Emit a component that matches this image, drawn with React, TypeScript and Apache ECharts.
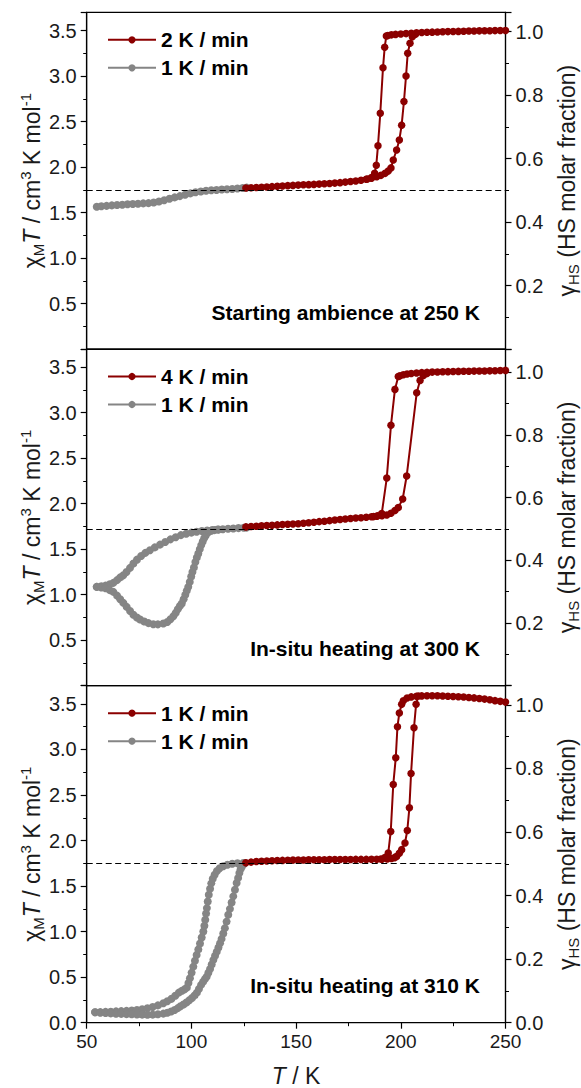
import React, { useEffect, useRef } from 'react';
import * as echarts from 'echarts';

// ---------- data (T / K, chiM*T / cm3 K mol-1) ----------
const legendLabels: string[][] = [
  ['2 K / min', '1 K / min'],
  ['4 K / min', '1 K / min'],
  ['1 K / min', '1 K / min'],
];
const panelNotes: string[] = [
  'Starting ambience at 250 K',
  'In-situ heating at 300 K',
  'In-situ heating at 310 K',
];
// chiM*T value that corresponds to a HS molar fraction of 1 in each panel
const hsFullScale: number[] = [3.487, 3.446, 3.49];
const xTicks = { min: 50, max: 250, step: 50 };
const yTicks = { min: 0, max: 3.7, step: 0.5 };

const p1Gray: [number, number][] = [
  [54.8, 1.564], [57, 1.568], [59.5, 1.573], [62, 1.578], [64.5, 1.582], [67, 1.586], [69.5, 1.59],
  [72, 1.593], [74.5, 1.596], [77, 1.6], [79.5, 1.603], [82, 1.61], [84.5, 1.62], [87, 1.635],
  [89.5, 1.652], [92, 1.666], [94.5, 1.68], [97, 1.695], [99.5, 1.71], [102, 1.722], [104.5, 1.731],
  [107, 1.739], [109.5, 1.744], [112, 1.748], [114.5, 1.752], [117, 1.755], [119.5, 1.759],
  [122, 1.764], [124.5, 1.769], [126.4, 1.773],
];
const p1RedHeat: [number, number][] = [
  [126, 1.77], [128.5, 1.772], [131, 1.775], [133.5, 1.778], [136, 1.781], [138.5, 1.784], [141, 1.788],
  [143.5, 1.792], [146, 1.795], [148.5, 1.798], [151, 1.801], [153.5, 1.804], [156, 1.806], [158.5, 1.809],
  [161, 1.812], [163.5, 1.815], [166, 1.819], [168.5, 1.823], [171, 1.828], [173.5, 1.834], [176, 1.84],
  [178.5, 1.847], [181, 1.855], [183.5, 1.865], [186, 1.877], [188.5, 1.892], [190.5, 1.908], [192.5, 1.93],
  [194, 1.955], [195.3, 1.99], [196.4, 2.077], [198, 2.187], [199.3, 2.297], [200.4, 2.46], [201.5, 2.72],
  [202.5, 3.0], [203.3, 3.25], [204.4, 3.36], [205.5, 3.43], [207, 3.46],
];
const p1RedCool: [number, number][] = [
  [250, 3.5], [247.5, 3.5], [245, 3.499], [242.5, 3.498], [240, 3.497], [237.5, 3.496], [235, 3.495],
  [232.5, 3.494], [230, 3.492], [227.5, 3.49], [225, 3.489], [222.5, 3.488], [220, 3.486], [217.5, 3.484],
  [215, 3.482], [212.5, 3.48], [210, 3.478], [207.5, 3.475], [205, 3.47], [202.5, 3.466], [200, 3.462],
  [197.5, 3.457], [195.5, 3.452], [193.8, 3.445], [193.1, 3.44], [192.3, 3.315], [191.5, 3.09],
  [190.2, 2.59], [189.1, 2.234], [188.3, 2.02], [187.5, 1.93], [186, 1.885], [184, 1.868],
];

const p2GrayUpper: [number, number][] = [
  [54.8, 1.086], [57, 1.092], [59, 1.1], [61, 1.115], [62.7, 1.13], [64.5, 1.16], [66, 1.19], [67.5, 1.214],
  [69, 1.25], [70.7, 1.295], [72.3, 1.342], [74, 1.385], [76, 1.425], [78, 1.46], [80.2, 1.489],
  [82.5, 1.52], [85, 1.55], [87.5, 1.58], [90, 1.608], [92.5, 1.632], [95, 1.655], [97.5, 1.67],
  [100, 1.682], [102.5, 1.692], [105, 1.7], [107.5, 1.706], [110, 1.711], [112.5, 1.716], [115, 1.72],
  [117.5, 1.724], [120, 1.728], [122.5, 1.732], [125, 1.735], [126.4, 1.737],
];
const p2GrayLower: [number, number][] = [
  [54.8, 1.086], [57, 1.08], [59, 1.07], [61, 1.05], [62.7, 1.031], [64.5, 0.99], [66, 0.95], [67.5, 0.91],
  [69.1, 0.866], [70.7, 0.82], [72.3, 0.78], [74, 0.75], [75.5, 0.728], [77.5, 0.705], [79.5, 0.688],
  [81.8, 0.676], [84, 0.674], [86.6, 0.683], [88.5, 0.7], [90, 0.73], [91.4, 0.764], [92.5, 0.8],
  [93.5, 0.84], [94.5, 0.875], [95.4, 0.903], [96.3, 0.95], [97.1, 1.0], [97.8, 1.045], [98.5, 1.086],
  [99.2, 1.14], [99.9, 1.2], [100.5, 1.25], [101.2, 1.3], [101.9, 1.36], [102.6, 1.41], [103.3, 1.452],
  [104, 1.5], [104.7, 1.545], [105.4, 1.585], [106.1, 1.62], [106.8, 1.65], [107.5, 1.675], [108.3, 1.692],
  [109.5, 1.703], [111, 1.71], [113, 1.715],
];
const p2RedHeat: [number, number][] = [
  [126, 1.745], [128.5, 1.749], [131, 1.753], [133.5, 1.757], [136, 1.761], [138.5, 1.764], [141, 1.767],
  [143.5, 1.771], [146, 1.774], [148.5, 1.777], [151, 1.78], [153.5, 1.785], [156, 1.79], [158.5, 1.797],
  [161, 1.803], [163.5, 1.808], [166, 1.814], [168.5, 1.82], [171, 1.826], [173.5, 1.832], [176, 1.838],
  [178.5, 1.842], [181, 1.846], [183.5, 1.851], [186, 1.856], [188.5, 1.862], [191, 1.868], [193.3, 1.876],
  [195.3, 1.895], [197.2, 1.925], [198.8, 1.957], [200.9, 2.052], [202.8, 2.304], [207.6, 3.219],
  [209.2, 3.355], [210.8, 3.41], [212.5, 3.43],
];
const p2RedCool: [number, number][] = [
  [250, 3.465], [247.5, 3.463], [245, 3.461], [242.5, 3.46], [240, 3.459], [237.5, 3.458], [235, 3.457],
  [232.5, 3.456], [230, 3.455], [227.5, 3.454], [225, 3.453], [222.5, 3.451], [220, 3.45], [217.5, 3.448],
  [215, 3.446], [212.5, 3.443], [210, 3.44], [207.5, 3.436], [205, 3.431], [203, 3.425], [201.2, 3.417],
  [199.6, 3.405], [198.8, 3.398], [197.2, 3.256], [195.3, 2.861], [193.3, 2.282], [190.9, 1.891],
  [189, 1.868], [187, 1.858],
];

const p3GrayCool: [number, number][] = [
  [54, 0.114], [56.5, 0.116], [59, 0.119], [61.5, 0.121], [64, 0.124], [66.5, 0.127], [69, 0.13],
  [71.5, 0.134], [74, 0.14], [76.5, 0.148], [79, 0.158], [81.5, 0.172], [84, 0.19], [86.6, 0.213],
  [88.5, 0.235], [90.5, 0.262], [92.3, 0.295], [94, 0.33], [95.5, 0.35], [96.8, 0.368], [97.8, 0.385],
  [98.6, 0.435], [99.3, 0.488], [100.1, 0.55], [100.9, 0.616], [101.7, 0.68], [102.5, 0.744],
  [103.3, 0.805], [104.1, 0.87], [104.9, 0.935], [105.7, 1.001], [106.2, 1.065], [106.6, 1.13], [107, 1.2],
  [107.4, 1.258], [107.8, 1.33], [108.3, 1.405], [108.9, 1.47], [109.5, 1.53], [110.2, 1.58],
  [111.1, 1.625], [112.2, 1.665], [113.5, 1.695], [115.2, 1.718], [117.2, 1.735], [119.5, 1.745],
  [122, 1.75], [124.8, 1.753],
];
const p3GrayHeat: [number, number][] = [
  [54, 0.114], [56.5, 0.11], [59, 0.106], [61.5, 0.102], [64, 0.099], [66.5, 0.097], [69, 0.094],
  [71.5, 0.092], [74, 0.09], [76.5, 0.089], [79, 0.088], [81.5, 0.089], [84, 0.093], [86.6, 0.1],
  [88.5, 0.11], [90.3, 0.123], [92, 0.14], [93.5, 0.16], [94.8, 0.18], [96.2, 0.2], [97.6, 0.222],
  [99, 0.246], [100.3, 0.272], [101.5, 0.3], [102.6, 0.33], [103.6, 0.37], [104.6, 0.415], [105.6, 0.45],
  [106.5, 0.48], [107.3, 0.506], [108.1, 0.548], [108.9, 0.59], [109.7, 0.64], [110.5, 0.69],
  [111.3, 0.735], [112.1, 0.78], [112.9, 0.826], [113.7, 0.873], [114.4, 0.92], [115.2, 0.98], [116, 1.038],
  [116.8, 1.11], [117.6, 1.185], [118.4, 1.25], [119.2, 1.32], [120, 1.387], [120.8, 1.46], [121.6, 1.533],
  [122.3, 1.59], [122.9, 1.643], [123.5, 1.685], [124.1, 1.716], [124.8, 1.738], [125.6, 1.753],
];
const p3RedHeat: [number, number][] = [
  [126, 1.755], [128.5, 1.763], [131, 1.769], [133.5, 1.773], [136, 1.776], [138.5, 1.778], [141, 1.78],
  [143.5, 1.782], [146, 1.784], [148.5, 1.785], [151, 1.786], [153.5, 1.787], [156, 1.788], [158.5, 1.789],
  [161, 1.79], [163.5, 1.79], [166, 1.791], [168.5, 1.791], [171, 1.792], [173.5, 1.792], [176, 1.792],
  [178.5, 1.793], [181, 1.793], [183.5, 1.793], [186, 1.794], [188.5, 1.794], [191, 1.795], [193.5, 1.797],
  [195.5, 1.803], [197, 1.812], [198, 1.826], [199.3, 1.86], [200.4, 1.9], [202, 1.973], [203.1, 2.11],
  [204.1, 2.359], [204.9, 2.736], [206.3, 3.239], [207.3, 3.495], [208.4, 3.586],
];
const p3RedCool: [number, number][] = [
  [250, 3.52], [247.5, 3.528], [245, 3.536], [242.5, 3.545], [240, 3.553], [237.5, 3.56], [235, 3.566],
  [232.5, 3.571], [230, 3.575], [227.5, 3.579], [225, 3.582], [222.5, 3.585], [220, 3.587], [217.5, 3.589],
  [215, 3.59], [212.5, 3.59], [210, 3.588], [207.5, 3.584], [205, 3.577], [203, 3.565], [201.2, 3.535],
  [200.4, 3.495], [199.3, 3.4], [198.4, 3.25], [197.6, 2.909], [196.4, 2.615], [195.2, 2.1], [194, 1.863],
  [192.5, 1.815], [190.5, 1.798],
];

const panelRed: [number, number][][][] = [
  [p1RedHeat, p1RedCool],
  [p2RedHeat, p2RedCool],
  [p3RedHeat, p3RedCool],
];
const panelGray: [number, number][][][] = [
  [p1Gray],
  [p2GrayUpper, p2GrayLower],
  [p3GrayCool, p3GrayHeat],
];

// ---------- layout / style ----------
const FONT = 'Arial, "Liberation Sans", Helvetica, sans-serif';
const RED = '#8b0000';
const GRAY = '#858585';
const INK = '#1a1a1a';
const PLOT_LEFT = 86.7;
const PLOT_RIGHT = 505.5;
const CHART_W = 581;
const CHART_H = 1088;
const PANEL_TOP = [12.3, 349, 685.7];
const PANEL_H = [336.7, 336.7, 337];

const titleRich = {
  n: { fontSize: 23, fontFamily: FONT, fill: INK, lineHeight: 28 },
  g: { fontSize: 23, fontFamily: FONT, fill: INK, lineHeight: 28 },
  it: { fontSize: 23, fontFamily: FONT, fontStyle: 'italic', fill: INK, lineHeight: 28 },
  sub: { fontSize: 15, fontFamily: FONT, fill: INK, lineHeight: 15, verticalAlign: 'bottom' },
  sup: { fontSize: 15, fontFamily: FONT, fill: INK, lineHeight: 15, verticalAlign: 'top' },
};

function buildOption() {
  const grid: any[] = [];
  const xAxis: any[] = [];
  const yAxis: any[] = [];
  const series: any[] = [];
  const legend: any[] = [];
  const graphic: any[] = [];
  const nameMap: Record<string, string> = {};

  for (let i = 0; i < 3; i++) {
    const top = PANEL_TOP[i];
    const h = PANEL_H[i];
    const bottom = top + h;
    const isLast = i === 2;
    const rMax = yTicks.max / hsFullScale[i];

    grid.push({
      left: PLOT_LEFT,
      right: CHART_W - PLOT_RIGHT,
      top,
      height: h,
      show: true,
      borderColor: '#000',
      borderWidth: 1.2,
      backgroundColor: 'transparent',
      containLabel: false,
      outerBoundsMode: 'none',
    });

    xAxis.push({
      gridIndex: i,
      type: 'value',
      min: xTicks.min,
      max: xTicks.max,
      interval: xTicks.step,
      axisLine: { show: true, onZero: false, lineStyle: { color: '#000', width: 1.2 } },
      axisTick: { show: isLast, inside: false, length: 6, lineStyle: { color: '#000', width: 1.2 } },
      minorTick: { show: isLast, splitNumber: 2, length: 3.5, lineStyle: { color: '#000', width: 1 } },
      axisLabel: { show: isLast, fontSize: 19, color: INK, fontFamily: FONT, margin: 9 },
      splitLine: { show: false },
    });

    yAxis.push({
      gridIndex: i,
      type: 'value',
      position: 'left',
      min: yTicks.min,
      max: yTicks.max,
      interval: yTicks.step,
      axisLine: { show: true, onZero: false, lineStyle: { color: '#000', width: 1.2 } },
      axisTick: { show: true, inside: false, length: 6, lineStyle: { color: '#000', width: 1.2 } },
      minorTick: { show: true, splitNumber: 2, length: 3.5, lineStyle: { color: '#000', width: 1 } },
      axisLabel: {
        fontSize: 20,
        color: INK,
        fontFamily: FONT,
        margin: 10,
        formatter: (v: number) => ((v < 0.01 && !isLast) || v > 3.6 ? '' : v.toFixed(1)),
      },
      splitLine: { show: false },
    });
    yAxis.push({
      gridIndex: i,
      type: 'value',
      position: 'right',
      min: 0,
      max: rMax,
      interval: 0.2,
      axisLine: { show: true, onZero: false, lineStyle: { color: '#000', width: 1.2 } },
      axisTick: { show: true, inside: false, length: 6, lineStyle: { color: '#000', width: 1.2 } },
      minorTick: { show: true, splitNumber: 2, length: 3.5, lineStyle: { color: '#000', width: 1 } },
      axisLabel: {
        fontSize: 20,
        color: INK,
        fontFamily: FONT,
        margin: 10,
        formatter: (v: number) => ((v < 0.01 && !isLast) || v > 1.01 ? '' : v.toFixed(1)),
      },
      splitLine: { show: false },
    });

    const redName = `panel${i + 1}-red`;
    const grayName = `panel${i + 1}-gray`;
    nameMap[redName] = legendLabels[i][0];
    nameMap[grayName] = legendLabels[i][1];

    panelGray[i].forEach((d) => {
      series.push({
        type: 'line',
        name: grayName,
        xAxisIndex: i,
        yAxisIndex: 2 * i,
        data: d,
        symbol: 'circle',
        symbolSize: 8,
        showSymbol: true,
        showAllSymbol: true,
        lineStyle: { color: GRAY, width: 2 },
        itemStyle: { color: GRAY },
        emphasis: { disabled: true },
        z: 2,
      });
    });
    panelRed[i].forEach((d, k) => {
      const s: any = {
        type: 'line',
        name: redName,
        xAxisIndex: i,
        yAxisIndex: 2 * i,
        data: d,
        symbol: 'circle',
        symbolSize: 7.5,
        showSymbol: true,
        showAllSymbol: true,
        lineStyle: { color: RED, width: 2 },
        itemStyle: { color: RED },
        emphasis: { disabled: true },
        z: 3,
      };
      if (k === 0) {
        s.markLine = {
          silent: true,
          symbol: 'none',
          label: { show: false },
          lineStyle: { color: '#000', type: [6, 3.5], width: 1.2 },
          data: [{ yAxis: hsFullScale[i] / 2 }],
          z: 5,
        };
      }
      series.push(s);
    });

    legend.push({
      show: true,
      orient: 'vertical',
      left: 107,
      top: top + 17,
      padding: 0,
      itemWidth: 48,
      itemHeight: 9,
      itemGap: 7,
      selectedMode: false,
      data: [redName, grayName],
      formatter: (name: string) => nameMap[name],
      lineStyle: { width: 2 },
      textStyle: { fontSize: 21, fontWeight: 'bold', color: '#000', fontFamily: FONT, lineHeight: 19 },
    });

    graphic.push({
      type: 'text',
      x: 480,
      y: bottom - 37,
      silent: true,
      style: {
        text: panelNotes[i],
        fontSize: 21,
        fontWeight: 'bold',
        fontFamily: FONT,
        fill: '#000',
        align: 'right',
        verticalAlign: 'middle',
      },
    });
    graphic.push({
      type: 'text',
      x: 32,
      y: top + h / 2,
      rotation: Math.PI / 2,
      silent: true,
      style: {
        text: '{g|χ}{sub|M}{it|T}{n| / cm}{sup|3}{n| K mol}{sup|-1}',
        rich: titleRich,
        align: 'center',
        verticalAlign: 'middle',
      },
    });
    graphic.push({
      type: 'text',
      x: 567,
      y: top + h / 2,
      rotation: Math.PI / 2,
      silent: true,
      style: {
        text: '{g|γ}{sub|HS}{n| (HS molar fraction)}',
        rich: titleRich,
        align: 'center',
        verticalAlign: 'middle',
      },
    });
  }

  graphic.push({
    type: 'text',
    x: (PLOT_LEFT + PLOT_RIGHT) / 2,
    y: 1076,
    silent: true,
    style: {
      text: '{it|T}{n| / K}',
      rich: titleRich,
      align: 'center',
      verticalAlign: 'middle',
    },
  });

  return {
    animation: false,
    backgroundColor: '#fff',
    grid,
    xAxis,
    yAxis,
    series,
    legend,
    graphic,
  };
}

export default function App() {
  const ref = useRef<HTMLDivElement>(null);
  useEffect(() => {
    if (!ref.current) return;
    const chart = echarts.init(ref.current, null, { renderer: 'svg' });
    chart.setOption(buildOption() as any);
    return () => chart.dispose();
  }, []);
  return (
    <div
      ref={ref}
      style={{ position: 'fixed', left: 0, top: 0, width: CHART_W, height: CHART_H, background: '#fff' }}
    />
  );
}
